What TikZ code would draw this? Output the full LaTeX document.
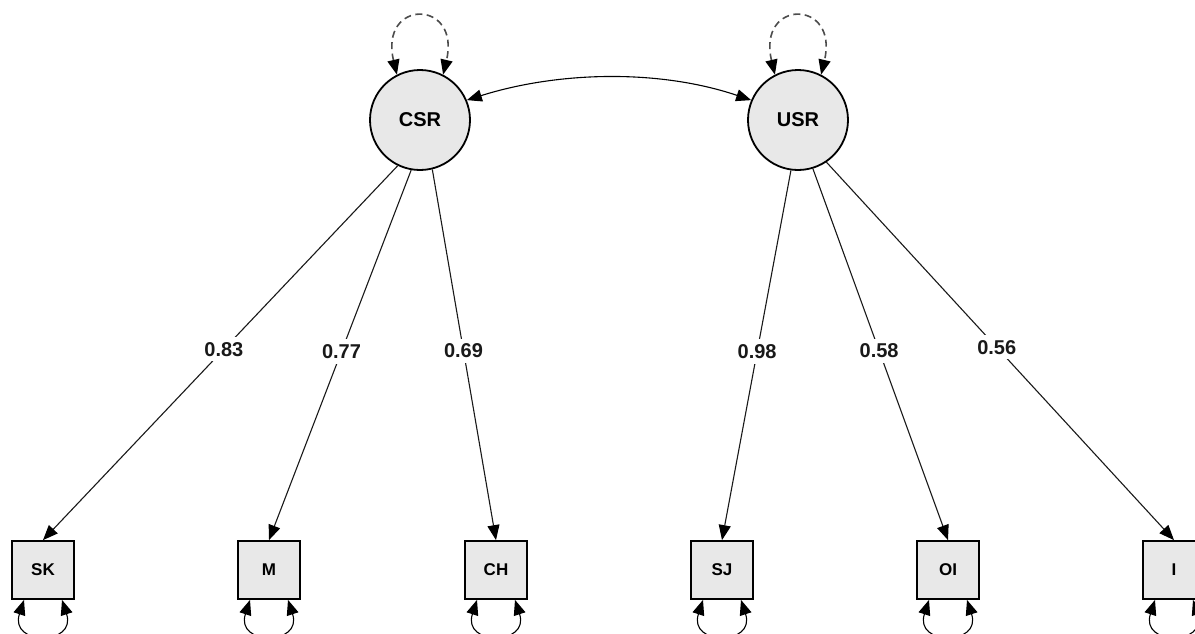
\documentclass[tikz,border=0pt]{standalone}
\usepackage{fontspec}
\setmainfont{Liberation Sans}
\usetikzlibrary{arrows.meta}
\begin{document}
\begin{tikzpicture}[x=1pt,y=-1pt,
  latent/.style={circle, draw=black, line width=1.8pt, fill=black!9,
    minimum size=100pt, inner sep=0pt, font=\fontsize{20}{20}\selectfont\bfseries},
  manifest/.style={rectangle, draw=black, line width=1.8pt, fill=black!9,
    minimum width=62pt, minimum height=58pt, inner sep=0pt,
    font=\fontsize{17}{17}\selectfont\bfseries},
  load/.style={line width=1.1pt, black!90, -{Triangle[length=15pt,width=12pt,color=black]}},
  twoway/.style={line width=1.1pt, {Triangle[length=15pt,width=12pt,color=black]}-{Triangle[length=15pt,width=12pt,color=black]}},
  varloop/.style={twoway, line width=1.6pt, black!70, dash pattern=on 7pt off 4.5pt},
  coef/.style={fill=white, inner sep=5pt, pos=0.49,
    font=\fontsize{20}{20}\selectfont\bfseries},
]
\useasboundingbox (0,0) rectangle (1195,633);

% latent factors
\node[latent] (CSR) at (420,120) {CSR};
\node[latent] (USR) at (798,120) {USR};

% observed indicators
\foreach \n/\x in {SK/43, M/269, CH/496, SJ/722, OI/948, I/1174}
  \node[manifest] (\n) at (\x,570) {\n};

% factor variances
\draw[varloop] (CSR.117) .. controls +(-18,-76) and +(18,-76) .. (CSR.63);
\draw[varloop] (USR.117) .. controls +(-18,-76) and +(18,-76) .. (USR.63);

% factor covariance
\draw[twoway] (CSR.23) .. controls +(92,-29) and +(-92,-31) .. (USR.157);

% loadings
\draw[load] (CSR.244) -- node[coef]{0.83} (SK.north);
\draw[load] (CSR.260) -- node[coef]{0.77} (M.north);
\draw[load] (CSR.284) -- node[coef]{0.69} (CH.north);
\draw[load] (USR.262) -- node[coef]{0.98} (SJ.north);
\draw[load] (USR.287) -- node[coef]{0.58} (OI.north);
\draw[load] (USR.304) -- node[coef]{0.56} (I.north);

% residual variances
\foreach \n in {SK, M, CH, SJ, OI, I}
  \draw[twoway] ([xshift=-19pt]\n.south) .. controls +(-15,46) and +(15,46) .. ([xshift=19pt]\n.south);
\end{tikzpicture}
\end{document}
